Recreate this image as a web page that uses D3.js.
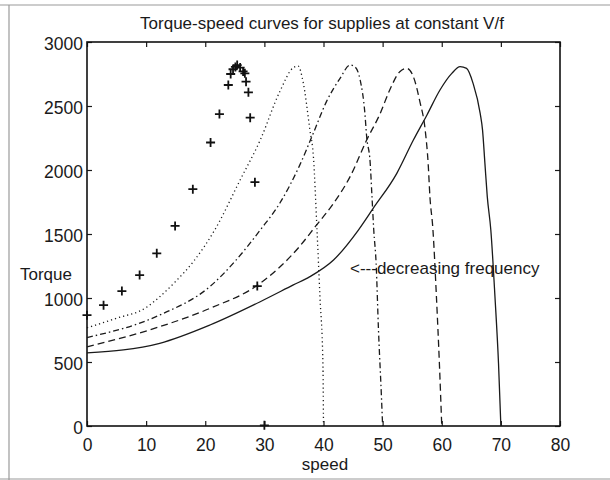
<!DOCTYPE html>
<html>
<head>
<meta charset="utf-8">
<script src="https://cdn.jsdelivr.net/npm/d3@7"></script>
<style>
  html, body { margin: 0; padding: 0; background: #fff; }
  svg text { font-family: "Liberation Sans", Arial, Helvetica, sans-serif; fill: #1a1a1a; }
</style>
</head>
<body>
<svg id="chart" width="610" height="480"></svg>
<script>
// Axis ticks
const speedTicks = [0, 10, 20, 30, 40, 50, 60, 70, 80];
const torqueTicks = [0, 500, 1000, 1500, 2000, 2500, 3000];

// Supply at synchronous speed 30 (plotted as + markers)
const plusSpeed  = [0, 2.8, 5.9, 8.9, 11.8, 14.9, 17.9, 20.9, 22.4, 23.9, 24.3, 24.7, 25.1, 25.4, 25.9, 26.4, 26.7, 26.9, 27.3, 27.6, 28.4, 28.8, 30.0];
const plusTorque = [866, 944, 1054, 1179, 1349, 1563, 1850, 2215, 2437, 2664, 2750, 2787, 2805, 2820, 2800, 2770, 2755, 2690, 2607, 2409, 1905, 1093, 5];

// Supply at synchronous speed 40 (dotted)
const dottedSpeed  = [0, 5, 10, 12.3, 15, 18, 21.6, 25.9, 29.3, 32.6, 34.9, 35.7, 36.5, 37.7, 38.3, 38.9, 39.4, 39.9, 40];
const dottedTorque = [767, 842, 925, 1010, 1130, 1285, 1531, 1922, 2234, 2612, 2800, 2812, 2700, 2312, 2100, 1531, 1010, 492, 0];

// Supply at synchronous speed 50 (dash-dot)
const dashdotSpeed  = [0, 12.3, 20.8, 25, 29.3, 32.6, 36.0, 38.3, 40.5, 42.8, 44.5, 45.3, 46.2, 47.0, 47.3, 47.9, 48.2, 48.5, 48.9, 49.3, 49.8, 50];
const dashdotTorque = [691, 867, 1090, 1285, 1531, 1740, 2040, 2290, 2534, 2716, 2820, 2807, 2703, 2443, 2260, 2052, 1792, 1531, 1271, 750, 229, 0];

// Supply at synchronous speed 60 (dashed)
const dashedSpeed  = [0, 12.3, 20.8, 29.3, 35.9, 38.6, 41.7, 44.5, 47.3, 49.6, 51.2, 52.9, 54.1, 55.2, 56.3, 57.2, 57.7, 58.0, 58.5, 59.1, 59.6, 60];
const dashedTorque = [618, 776, 919, 1115, 1400, 1557, 1740, 1948, 2234, 2443, 2625, 2768, 2794, 2729, 2534, 2312, 2052, 1792, 1540, 1010, 490, 0];

// Supply at synchronous speed 70 (solid)
const solidSpeed  = [0, 12.3, 20.8, 29.3, 34.9, 37.7, 41.7, 45.9, 48.4, 52.4, 55.2, 57.5, 59.7, 61.7, 63.1, 64.2, 65.3, 66.5, 66.9, 67.3, 67.7, 68.3, 69.0, 69.6, 70];
const solidTorque = [571, 646, 789, 971, 1102, 1167, 1297, 1531, 1700, 1974, 2234, 2430, 2625, 2755, 2807, 2794, 2677, 2443, 2312, 2052, 1792, 1531, 1010, 490, 0];

(function () {
  const svg = d3.select("#chart");

  // scanned page edges
  const edge = svg.append("g").attr("stroke", "#9a9a9a").attr("stroke-width", 1.2).attr("fill", "none");
  edge.append("line").attr("x1", 0).attr("x2", 610).attr("y1", 5).attr("y2", 5);
  edge.append("line").attr("x1", 9).attr("x2", 9).attr("y1", 5).attr("y2", 480);
  edge.append("line").attr("x1", 0).attr("x2", 610).attr("y1", 479).attr("y2", 479);

  const pLeft = 87, pRight = 560, pTop = 42, pBottom = 426;
  const x = d3.scaleLinear().domain([0, 80]).range([pLeft, pRight]);
  const y = d3.scaleLinear().domain([0, 3000]).range([pBottom, pTop]);

  const tickLen = 5;
  const fmt = d3.format("d");
  // inward ticks on all four sides
  const axes = [
    d3.axisBottom(x).tickValues(speedTicks).tickSize(-tickLen).tickPadding(13).tickFormat(fmt),
    d3.axisTop(x).tickValues(speedTicks).tickSize(-tickLen).tickFormat(""),
    d3.axisLeft(y).tickValues(torqueTicks).tickSize(-tickLen).tickPadding(4).tickFormat(fmt),
    d3.axisRight(y).tickValues(torqueTicks).tickSize(-tickLen).tickFormat("")
  ];
  const pos = [`translate(0,${pBottom})`, `translate(0,${pTop})`, `translate(${pLeft},0)`, `translate(${pRight},0)`];
  axes.forEach((ax, i) => {
    const g = svg.append("g").attr("transform", pos[i]).call(ax);
    g.select(".domain").remove();
    g.selectAll(".tick line").attr("stroke", "#1a1a1a").attr("stroke-width", 1.2);
    g.selectAll(".tick text").attr("font-size", 17.5).attr("fill", "#1a1a1a")
      .attr("font-family", "Liberation Sans, Arial, sans-serif");
    if (i === 2) g.selectAll(".tick text").attr("dy", "0.45em");
  });

  svg.append("rect")
    .attr("x", pLeft).attr("y", pTop).attr("width", pRight - pLeft).attr("height", pBottom - pTop)
    .attr("fill", "none").attr("stroke", "#111").attr("stroke-width", 1.6);

  const line = d3.line().x(d => x(d[0])).y(d => y(d[1])).curve(d3.curveMonotoneX);
  const curves = [
    { s: dottedSpeed, t: dottedTorque, dash: "1.2,3" },
    { s: dashdotSpeed, t: dashdotTorque, dash: "6,3,1.5,3" },
    { s: dashedSpeed, t: dashedTorque, dash: "7,4" },
    { s: solidSpeed, t: solidTorque, dash: null }
  ];
  curves.forEach(c => {
    svg.append("path")
      .datum(d3.zip(c.s, c.t))
      .attr("d", line)
      .attr("fill", "none")
      .attr("stroke", "#1a1a1a")
      .attr("stroke-width", 1.3)
      .attr("stroke-dasharray", c.dash);
  });

  // + markers
  svg.append("g").selectAll("path")
    .data(d3.zip(plusSpeed, plusTorque))
    .join("path")
    .attr("transform", d => `translate(${x(d[0])},${y(d[1])})`)
    .attr("d", "M-4.5,0H4.5M0,-4.5V4.5")
    .attr("stroke", "#111").attr("stroke-width", 1.8).attr("fill", "none");

  // labels
  svg.append("text").attr("x", 322).attr("y", 29).attr("text-anchor", "middle")
    .attr("font-size", 17).text("Torque-speed curves for supplies at constant V/f");
  svg.append("text").attr("x", 325).attr("y", 470).attr("text-anchor", "middle")
    .attr("font-size", 17).text("speed");
  svg.append("text").attr("x", 20).attr("y", 280)
    .attr("font-size", 17).text("Torque");
  svg.append("text").attr("x", 350).attr("y", 274)
    .attr("font-size", 17).text("<---decreasing frequency");
})();
</script>
</body>
</html>
